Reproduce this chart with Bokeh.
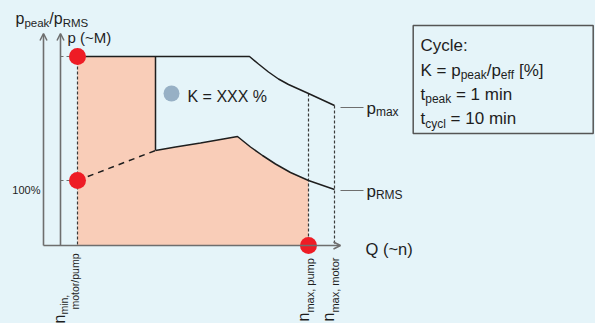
import math
from bokeh.plotting import figure
from bokeh.models import Range1d, ColumnDataSource, Arrow, OpenHead, GlobalInlineStyleSheet
from bokeh.core.properties import value
from bokeh.embed import file_html
from bokeh.resources import INLINE

# ---------------- data (schematic chart units: n along x, p along y) ----------------
n_min = 17
n_switch = 95
n_max_pump = 248
n_max_motor = 274
p_peak = 189
p_100 = 65

pmax_n = [17, 95, 189, 198, 208, 218, 228, 238, 248, 274]
pmax_p = [189, 189, 189, 181.5, 173.5, 166.5, 161, 156.5, 152, 140]

prms_n = [95, 115, 140, 160, 177, 190, 202, 215, 230, 248, 274]
prms_p = [95, 98.5, 102.5, 106, 109, 98.5, 90, 81.5, 73, 65, 56]

x_axis_end = 280
y_axis_top = 212

# ---------------- styles ----------------
BG = "#e5f4f9"
FILL = "#f9cdb8"
RED = "#ee1c25"
GRAYDOT = "#97b0c5"
AXIS = "#6e6e6e"
INK = "#1e1e1e"
FONT = "Liberation Sans"
SHIFT = 0.26  # baseline correction, in em

p = figure(width=595, height=323, x_range=Range1d(-60, 535), y_range=Range1d(-78, 245),
           output_backend="svg", toolbar_location=None, min_border=0,
           background_fill_color=BG, border_fill_color=BG, outline_line_color=None)
p.axis.visible = False
p.grid.visible = False
p.stylesheets = [GlobalInlineStyleSheet(css="html,body{margin:0;padding:0;background:%s;overflow:hidden;}" % BG)]

# ---------------- filled region ----------------
idx_end = prms_n.index(n_max_pump)
fx = [n_min, n_min, n_switch] + prms_n[:idx_end + 1] + [n_max_pump]
fy = [0, p_peak, p_peak] + prms_p[:idx_end + 1] + [0]
p.patch(fx, fy, fill_color=FILL, line_color=None)

# ---------------- guide lines ----------------
p.segment(x0=[0, 0], y0=[p_peak, p_100], x1=[n_min, n_min], y1=[p_peak, p_100],
          line_color=AXIS, line_width=1.2, line_dash="3 3")
p.segment(x0=[n_min, n_max_pump, n_max_motor], y0=[p_peak, pmax_p[pmax_n.index(n_max_pump)], pmax_p[-1]],
          x1=[n_min, n_max_pump, n_max_motor], y1=[0, 0, 0],
          line_color="#3a3a3a", line_width=1.2, line_dash="3 2")
p.line([n_min, n_switch], [p_100, prms_p[0]], line_color=INK, line_width=1.5, line_dash="6 5")

# ---------------- curves ----------------
p.line(pmax_n, pmax_p, line_color=INK, line_width=1.5)
p.line(prms_n, prms_p, line_color=INK, line_width=1.5)
p.line([n_switch, n_switch], [p_peak, prms_p[0]], line_color=INK, line_width=1.5)

# label leader lines
p.segment(x0=[280, 280], y0=[138, 55], x1=[303, 303], y1=[138, 55], line_color=AXIS, line_width=1.2)

# ---------------- axes ----------------
for xs, ys, xe, ye in [(-17, 0, x_axis_end, 0), (-17, 0, -17, y_axis_top), (0, 0, 0, y_axis_top)]:
    p.add_layout(Arrow(end=OpenHead(size=7, line_color=AXIS, line_width=1.5),
                       x_start=xs, y_start=ys, x_end=xe, y_end=ye, line_color=AXIS, line_width=1.6))

# ---------------- box ----------------
p.quad(left=[352.7], right=[532.7], top=[220], bottom=[112], fill_color=None,
       line_color="#555555", line_width=1.5)

# ---------------- points ----------------
p.scatter([n_min, n_min, n_max_pump], [p_peak, p_100, 0], size=17, fill_color=RED, line_color=None)
p.scatter([111], [152], size=16, fill_color=GRAYDOT, line_color=None)

# ---------------- text ----------------
W = {'p': .556, 'e': .556, 'a': .556, 'k': .5, 'R': .722, 'M': .833, 'S': .667, 'm': .833, 'x': .5,
     'f': .278, 'c': .5, 'y': .5, 'l': .222, '/': .278, ' ': .278, '(': .333, ')': .333, '~': .584,
     '=': .584, '[': .278, ']': .278, '%': .889, 'K': .667, 'C': .722, ':': .278, '1': .556, '0': .556,
     'i': .222, 'n': .556, 't': .278, 'X': .667, 'Q': .778, ',': .278, 'o': .556, 'r': .333, 'u': .556}


def width(s, size):
    return sum(W.get(c, .556) for c in s) * size


H = dict(x=[], y=[], text=[], size=[], align=[])
V = dict(x=[], y=[], text=[], size=[])


def rich(x, y, segs, align='left'):
    for s, size, dy in segs:
        lead = len(s) - len(s.lstrip(' '))
        x += lead * W[' '] * size
        t = s.strip(' ')
        H['x'].append(x); H['y'].append(y - dy + SHIFT * size); H['text'].append(t)
        H['size'].append("%.1fpx" % size); H['align'].append(align)
        x += width(s.lstrip(' '), size)


def vrich(x, y, segs):
    for s, size, dx in segs:
        V['x'].append(x + dx - SHIFT * size); V['y'].append(y); V['text'].append(s)
        V['size'].append("%.1fpx" % size)
        y += width(s, size)


F, f, d = 16, 11.5, 3
rich(-45, 223, [("p", F, 0), ("peak", f, d), ("/p", F, 0), ("RMS", f, d)])
rich(7, 204, [("p (~M)", 15, 0)])
rich(127, 145, [("K = XXX %", 16, 0)])
rich(305, -8, [("Q (~n)", 16.5, 0)])
rich(306, 133, [("p", 17, 0), ("max", 12, 3)])
rich(306, 50, [("p", 17, 0), ("RMS", 12, 3)])
rich(-20, 53, [("100%", 11, 0)], align='right')

B, b, bd = 17, 12, 3.5
rich(360, 196, [("Cycle:", B, 0)])
rich(360, 171, [("K = p", B, 0), ("peak", b, bd), ("/p", B, 0), ("eff", b, bd), (" [%]", B, 0)])
rich(360, 146.7, [("t", B, 0), ("peak", b, bd), (" = 1 min", B, 0)])
rich(360, 122.3, [("t", B, 0), ("cycl", b, bd), (" = 10 min", B, 0)])

vrich(247.5, -76, [("n", 16, 0), ("max, pump", 11, 5)])
vrich(272, -76, [("n", 16, 0), ("max, motor", 11, 5)])
vrich(3, -78, [("n", 16, 0), ("min,", 10.5, 3)])
vrich(17, -64, [("motor/pump", 10.5, 0)])

p.text(x='x', y='y', text='text', text_font_size='size', text_align='align',
       text_baseline='alphabetic', text_color="#1e1e1e", text_font=value(FONT),
       source=ColumnDataSource(H))
p.text(x='x', y='y', text='text', text_font_size='size', angle=math.pi / 2, text_align='left',
       text_baseline='alphabetic', text_color="#1e1e1e", text_font=value(FONT),
       source=ColumnDataSource(V))

open("out.html", "w").write(file_html(p, INLINE))
